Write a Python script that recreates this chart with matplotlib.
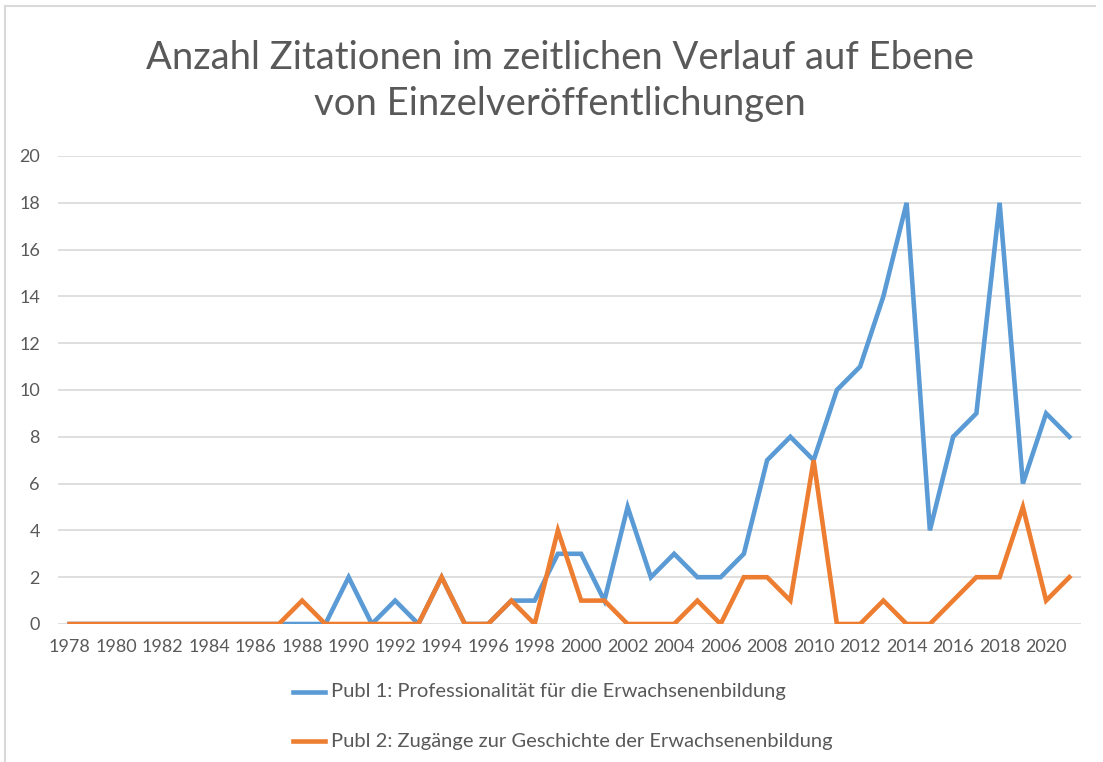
import numpy as np
import matplotlib.pyplot as plt
from matplotlib.lines import Line2D

plt.rcParams['font.family'] = ['Lato', 'DejaVu Sans']

years = np.arange(1978, 2022)
publ1 = [0, 0, 0, 0, 0, 0, 0, 0, 0, 0,
         0, 0, 2, 0, 1, 0, 2, 0, 0, 1,
         1, 3, 3, 1, 5, 2, 3, 2, 2, 3,
         7, 8, 7, 10, 11, 14, 18, 4, 8, 9,
         18, 6, 9, 8]
publ2 = [0, 0, 0, 0, 0, 0, 0, 0, 0, 0,
         1, 0, 0, 0, 0, 0, 2, 0, 0, 1,
         0, 4, 1, 1, 0, 0, 0, 1, 0, 2,
         2, 1, 7, 0, 0, 1, 0, 0, 1, 2,
         2, 5, 1, 2]
labels = ['Publ 1: Professionalität für die Erwachsenenbildung',
          'Publ 2: Zugänge zur Geschichte der Erwachsenenbildung']
title = 'Anzahl Zitationen im zeitlichen Verlauf auf Ebene\nvon Einzelveröffentlichungen'

blue = '#5B9BD5'
orange = '#ED7D31'
grey_text = '#595959'
grid = '#D9D9D9'

W, H = 1103, 762
fig = plt.figure(figsize=(W / 100, H / 100), dpi=100)
ax = fig.add_axes([58 / W, 138 / H, (1081 - 58) / W, 468 / H])

ax.plot(years, publ1, color=blue, lw=3.3, solid_joinstyle='miter', zorder=3)
ax.plot(years, publ2, color=orange, lw=3.3, solid_joinstyle='miter', zorder=4)

ax.set_xlim(1977.5, 2021.5)
ax.set_ylim(0, 20)
ax.set_yticks(np.arange(0, 21, 2))
ax.set_xticks(years[::2])
ax.set_xticklabels([str(y) for y in years[::2]])
ax.grid(axis='y', color=grid, lw=1.2)
ax.set_axisbelow(True)
for s in ax.spines.values():
    s.set_visible(False)
ax.tick_params(axis='both', length=0, colors=grey_text, labelsize=13)
ax.tick_params(axis='x', pad=11)
ax.tick_params(axis='y', pad=13)

fig.text(560 / W, 1 - 81 / H, title, ha='center', va='center',
         fontsize=27.5, color=grey_text, linespacing=1.33)

# chart area border (top and left edges only)
fig.add_artist(Line2D([5 / W, 1 - 8 / W], [1 - 6 / H, 1 - 6 / H], color=grid, lw=1.5))
fig.add_artist(Line2D([5 / W, 5 / W], [0, 1 - 6 / H], color=grid, lw=1.5))

# legend below the plot
for i, (lab, c) in enumerate(zip(labels, [blue, orange])):
    yy = 1 - (692 + 49 * i) / H
    fig.add_artist(Line2D([293 / W, 325 / W], [yy, yy], color=c, lw=3.3))
    fig.text(331 / W, yy, lab, ha='left', va='center', fontsize=14.5, color=grey_text)

fig.savefig('out.png', dpi=100, facecolor='white')
